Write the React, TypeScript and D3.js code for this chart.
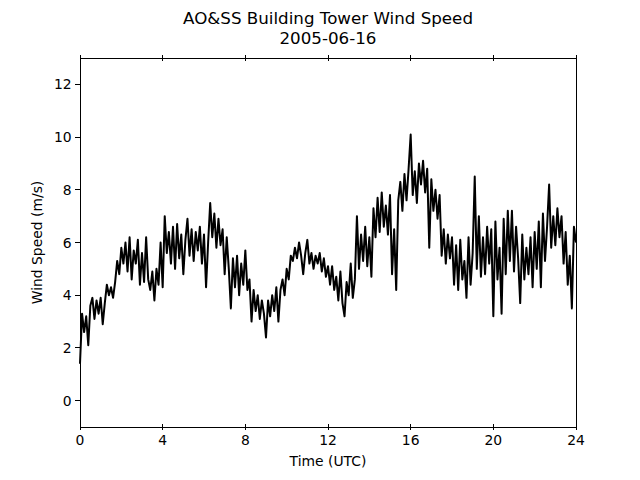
import React from 'react'
import { scaleLinear, line } from 'd3'

const title = 'AO&SS Building Tower Wind Speed'
const subtitle = '2005-06-16'
const xLabel = 'Time (UTC)'
const yLabel = 'Wind Speed (m/s)'

const xTicks = [0, 4, 8, 12, 16, 20, 24]
const yTicks = [0, 2, 4, 6, 8, 10, 12]

// wind speed every 0.1 h
const speedH00 = [1.4, 3.3, 2.6, 3.2, 2.1, 3.6, 3.9, 3.1, 3.8, 3.3]
const speedH01 = [3.9, 2.9, 3.7, 4.4, 4.0, 4.3, 3.9, 4.5, 5.3, 4.8]
const speedH02 = [5.8, 5.2, 6.0, 4.9, 6.2, 4.6, 5.7, 5.2, 6.1, 4.4]
const speedH03 = [5.6, 4.5, 6.2, 4.6, 4.2, 4.9, 3.8, 5.0, 4.4, 6.0]
const speedH04 = [4.3, 7.0, 5.6, 6.4, 5.2, 6.6, 5.0, 6.7, 5.4, 6.3]
const speedH05 = [4.8, 6.1, 6.9, 5.5, 6.5, 5.3, 6.4, 5.7, 6.6, 5.2]
const speedH06 = [6.3, 4.3, 6.0, 7.5, 6.2, 7.1, 5.8, 6.9, 5.9, 6.5]
const speedH07 = [4.8, 6.2, 5.0, 3.5, 5.4, 4.3, 5.5, 4.0, 5.2, 4.4]
const speedH08 = [5.7, 4.2, 4.6, 3.0, 4.2, 3.4, 4.0, 3.1, 3.8, 3.3]
const speedH09 = [2.4, 3.8, 3.2, 4.0, 3.4, 4.3, 3.0, 4.2, 4.6, 4.0]
const speedH10 = [5.0, 4.6, 5.5, 5.3, 5.8, 5.4, 6.0, 5.5, 4.8, 5.6]
const speedH11 = [6.1, 5.2, 5.6, 5.0, 5.5, 5.2, 5.6, 4.9, 5.4, 4.7]
const speedH12 = [5.1, 4.4, 5.1, 4.2, 4.7, 3.8, 4.9, 3.7, 3.2, 4.5]
const speedH13 = [4.0, 5.2, 3.9, 4.6, 7.0, 5.0, 6.3, 5.3, 6.6, 5.1]
const speedH14 = [6.2, 4.7, 7.3, 6.2, 7.7, 6.4, 7.9, 6.6, 7.4, 6.3]
const speedH15 = [7.8, 4.8, 6.5, 4.2, 7.6, 8.3, 7.2, 8.6, 7.6, 8.8]
const speedH16 = [10.1, 7.8, 8.7, 7.5, 9.0, 8.2, 9.1, 7.9, 8.8, 5.8]
const speedH17 = [8.4, 7.2, 8.0, 6.9, 7.8, 5.5, 6.5, 5.2, 6.3, 5.4]
const speedH18 = [6.2, 4.4, 5.9, 4.2, 6.1, 4.6, 5.3, 3.9, 6.2, 4.4]
const speedH19 = [5.6, 8.5, 5.0, 7.0, 4.7, 6.2, 4.8, 6.6, 5.2, 6.5]
const speedH20 = [3.2, 6.8, 4.6, 5.8, 3.3, 6.9, 4.8, 7.2, 5.3, 7.2]
const speedH21 = [4.9, 6.6, 5.4, 3.7, 6.3, 4.6, 5.8, 4.8, 6.2, 4.3]
const speedH22 = [6.4, 5.0, 6.8, 4.3, 7.1, 5.3, 6.6, 8.2, 5.8, 7.0]
const speedH23 = [5.9, 7.3, 6.2, 7.0, 5.2, 6.4, 4.4, 5.5, 3.5, 6.6, 6.0]

const speeds = [
  ...speedH00, ...speedH01, ...speedH02, ...speedH03, ...speedH04, ...speedH05,
  ...speedH06, ...speedH07, ...speedH08, ...speedH09, ...speedH10, ...speedH11,
  ...speedH12, ...speedH13, ...speedH14, ...speedH15, ...speedH16, ...speedH17,
  ...speedH18, ...speedH19, ...speedH20, ...speedH21, ...speedH22, ...speedH23,
]
const points = speeds.map((v, i) => ({ t: i / 10, v }))

const width = 640
const height = 480
const margin = { top: 58, right: 64, bottom: 53, left: 80 }
const font = 'DejaVu Sans, sans-serif'

export default function App() {
  const plotW = width - margin.left - margin.right
  const plotH = height - margin.top - margin.bottom

  const x = scaleLinear().domain([0, 24]).range([0, plotW])
  const y = scaleLinear().domain([-1, 13]).range([plotH, 0])

  const path = line<{ t: number; v: number }>()
    .x(d => x(d.t))
    .y(d => y(d.v))(points)

  return (
    <svg width={width} height={height} style={{ position: 'absolute', left: 0, top: 0, background: '#fff' }}>
      <text x={margin.left + plotW / 2} y={24} textAnchor="middle" fontFamily={font} fontSize={16.7}>{title}</text>
      <text x={margin.left + plotW / 2} y={44} textAnchor="middle" fontFamily={font} fontSize={16.7}>{subtitle}</text>

      <g transform={`translate(${margin.left},${margin.top})`}>
        <path d={path ?? ''} fill="none" stroke="#000" strokeWidth={2} strokeLinejoin="round" />

        <rect x={0} y={0} width={plotW} height={plotH} fill="none" stroke="#000" strokeWidth={1} shapeRendering="crispEdges" />

        {xTicks.map(t => (
          <g key={`x-${t}`} shapeRendering="crispEdges">
            <line x1={x(t)} x2={x(t)} y1={plotH - 2.7} y2={plotH + 2.7} stroke="#000" />
            <line x1={x(t)} x2={x(t)} y1={-2.7} y2={2.7} stroke="#000" />
            <text x={x(t)} y={plotH + 18} textAnchor="middle" fontFamily={font} fontSize={13.9}>{t}</text>
          </g>
        ))}

        {yTicks.map(v => (
          <g key={`y-${v}`} shapeRendering="crispEdges">
            <line x1={-4.9} x2={0} y1={y(v)} y2={y(v)} stroke="#000" />
            <text x={-8.4} y={y(v) + 5} textAnchor="end" fontFamily={font} fontSize={13.9}>{v}</text>
          </g>
        ))}

        <text x={plotW / 2} y={plotH + 39} textAnchor="middle" fontFamily={font} fontSize={13.9}>{xLabel}</text>
        <text
          transform={`translate(${-38},${plotH / 2}) rotate(-90)`}
          textAnchor="middle"
          fontFamily={font}
          fontSize={13.9}
        >
          {yLabel}
        </text>
      </g>
    </svg>
  )
}
